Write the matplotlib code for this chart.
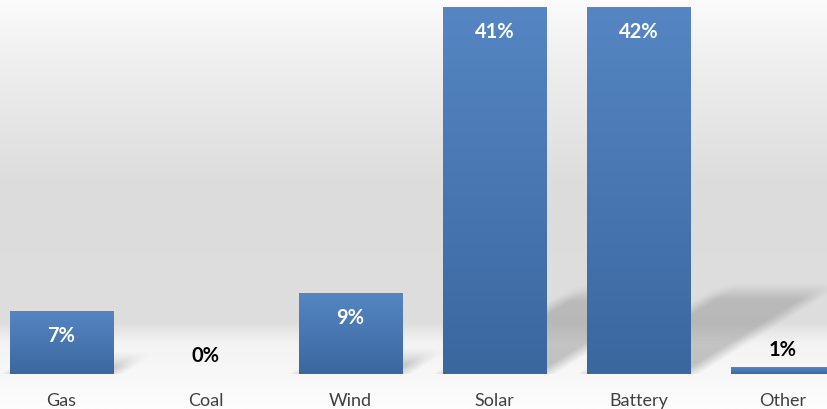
import numpy as np
import matplotlib.pyplot as plt
from matplotlib.colors import LinearSegmentedColormap

categories = ["Gas", "Coal", "Wind", "Solar", "Battery", "Other"]
shares = [7, 0, 9, 41, 42, 0.7]
labels = ["7%", "0%", "9%", "41%", "42%", "1%"]

plt.rcParams["font.family"] = ["Lato", "DejaVu Sans"]

fig = plt.figure(figsize=(8.27, 4.09), dpi=100)

# background gradient (white -> grey band -> white)
bg = fig.add_axes([0, 0, 1, 1], zorder=0)
bg_cmap = LinearSegmentedColormap.from_list(
    "bg",
    [(0.0, "#fbfbfb"), (0.12, "#f1f1f1"), (0.45, "#dcdcdc"),
     (0.79, "#dedede"), (0.84, "#f3f3f3"), (1.0, "#fdfdfd")],
)
bg.imshow(np.linspace(0, 1, 256).reshape(-1, 1), aspect="auto", cmap=bg_cmap,
          extent=[0, 1, 0, 1], origin="upper")
bg.axis("off")

ax = fig.add_axes([0, 35 / 409, 1, 367 / 409], zorder=1)
ax.patch.set_visible(False)
x = np.arange(len(categories))
width = 0.714
xlim = (-0.426, 5.305)
ytop = 41

# soft perspective shadows
shear = 0.022
squash = 0.22
gx = np.linspace(xlim[0], xlim[1], 900)
gy = np.linspace(0, ytop, 400)
X, Y = np.meshgrid(gx, gy)
alpha = np.zeros_like(X)
for xi, h in zip(x, shares):
    if h < 2:
        continue
    top = squash * h
    u = X - shear * h / top * Y
    dx = width / 2 - np.abs(u - xi)
    a_x = np.clip(dx / 0.14 + 0.5, 0, 1)
    a_y = np.clip((top - Y) / 1.8 + 0.5, 0, 1)
    fade = np.clip(1 - 0.3 * Y / top, 0, 1)
    alpha = np.maximum(alpha, 0.3 * a_x * a_y * fade)
shadow = np.zeros(X.shape + (4,))
shadow[..., :3] = 0.25
shadow[..., 3] = alpha
ax.imshow(shadow, extent=[gx[0], gx[-1], 0, ytop], origin="lower",
          aspect="auto", zorder=1, interpolation="bilinear")

# bars with vertical blue gradient
bar_cmap = LinearSegmentedColormap.from_list("bar", ["#3b679f", "#5586c3"])
bars = ax.bar(x, shares, width=width, color="none", edgecolor="none", zorder=2)
grad = np.linspace(0, 1, 256).reshape(-1, 1)
for b, h in zip(bars, shares):
    if h <= 0:
        continue
    im = ax.imshow(grad, cmap=bar_cmap, origin="lower", aspect="auto",
                   extent=[b.get_x(), b.get_x() + b.get_width(), 0, min(h, ytop)],
                   zorder=2)
    im.set_clip_path(b)
    im.set_clip_box(ax.bbox)

ax.set_xlim(*xlim)
ax.set_ylim(0, ytop)

for xi, h, lab in zip(x, shares, labels):
    if h >= 5:
        ax.annotate(lab, (xi, min(h, ytop)), xytext=(0, -18),
                    textcoords="offset points", ha="center", va="center",
                    color="white", fontsize=14.5, fontweight="bold", zorder=3)
    else:
        ax.annotate(lab, (xi, h), xytext=(0, 13), textcoords="offset points",
                    ha="center", va="center", color="black",
                    fontsize=14.5, fontweight="bold", zorder=3)

ax.set_xticks(x)
ax.set_xticklabels(categories, fontsize=13, color="#404040")
ax.tick_params(axis="x", length=0, pad=14)
ax.set_yticks([])
for s in ax.spines.values():
    s.set_visible(False)

fig.savefig("out.png", dpi=100)
